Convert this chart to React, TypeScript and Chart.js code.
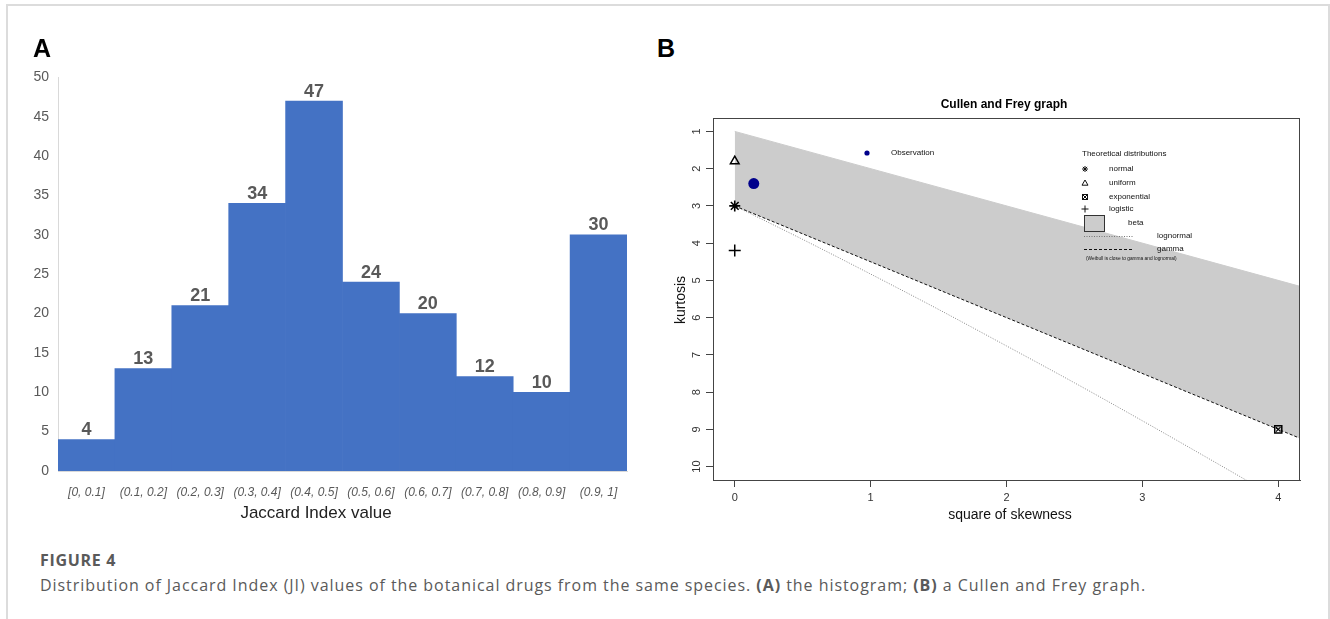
import React, { useEffect, useRef } from "react";
import { Chart, registerables } from "chart.js";

Chart.register(...registerables);

// ---------- Panel A data (histogram) ----------
const histCategories = [
  "[0, 0.1]",
  "(0.1, 0.2]",
  "(0.2, 0.3]",
  "(0.3, 0.4]",
  "(0.4, 0.5]",
  "(0.5, 0.6]",
  "(0.6, 0.7]",
  "(0.7, 0.8]",
  "(0.8, 0.9]",
  "(0.9, 1]",
];
const histCounts = [4, 13, 21, 34, 47, 24, 20, 12, 10, 30];
const histYMin = 0;
const histYMax = 50;
const histYStep = 5;

// ---------- Panel B data (Cullen and Frey graph) ----------
const cfXTicks = [0, 1, 2, 3, 4];
const cfYTicks = [1, 2, 3, 4, 5, 6, 7, 8, 9, 10];
const betaUpperSkew = [0, 4.3];
const betaUpperKurt = [1, 5.3];
const gammaSkew = [0, 4.3];
const gammaKurt = [3, 9.45];
const lognormalSkew = [0, 0.5, 1, 1.5, 2, 2.5, 3, 3.5, 3.8];
const lognormalKurt = [3, 3.9, 4.83, 5.78, 6.76, 7.75, 8.77, 9.81, 10.44];
const observationPoint = [0.14, 2.4];
const normalPoint = [0, 3];
const uniformPoint = [0, 1.8];
const logisticPoint = [0, 4.2];
const exponentialPoint = [4, 9];
const legendObservation = "Observation";
const legendTitle = "Theoretical distributions";
const legendNames = ["normal", "uniform", "exponential", "logistic", "beta", "lognormal", "gamma"];
const legendNote = "(Weibull is close to gamma and lognormal)";

const SANS = '"Liberation Sans", Arial, Helvetica, sans-serif';
const CAPTION_FONT = '"Open Sans", "Noto Sans", sans-serif';

const zip = (xs: number[], ys: number[]) => xs.map((x, i) => ({ x, y: ys[i] }));

function HistogramChart() {
  const ref = useRef<HTMLCanvasElement | null>(null);
  useEffect(() => {
    if (!ref.current) return;
    const labelPlugin = {
      id: "barLabels",
      afterDatasetsDraw(chart: any) {
        const ctx = chart.ctx;
        const meta = chart.getDatasetMeta(0);
        ctx.save();
        ctx.font = `bold 18px ${SANS}`;
        ctx.fillStyle = "#595959";
        ctx.textAlign = "center";
        ctx.textBaseline = "alphabetic";
        meta.data.forEach((bar: any, i: number) => {
          ctx.fillText(String(histCounts[i]), bar.x, bar.y - 4.5);
        });
        ctx.restore();
      },
    };
    const chart = new Chart(ref.current, {
      type: "bar",
      data: {
        labels: histCategories,
        datasets: [
          {
            data: histCounts,
            backgroundColor: "#4472C4",
            borderWidth: 0,
            categoryPercentage: 1,
            barPercentage: 1,
          },
        ],
      },
      options: {
        responsive: false,
        animation: false,
        events: [],
        layout: { padding: { top: 16, right: 23, left: 0, bottom: 0 } },
        plugins: { legend: { display: false }, tooltip: { enabled: false } },
        scales: {
          x: {
            grid: { display: false, drawTicks: false },
            border: { display: true, color: "#d9d9d9" },
            ticks: {
              font: { family: SANS, size: 12, style: "italic" },
              color: "#595959",
              padding: 14,
              maxRotation: 0,
              minRotation: 0,
              autoSkip: false,
            },
            afterFit: (s: any) => {
              s.height = 69;
            },
          },
          y: {
            min: histYMin,
            max: histYMax,
            grid: { display: false, drawTicks: false },
            border: { display: true, color: "#d9d9d9" },
            ticks: {
              stepSize: histYStep,
              font: { family: SANS, size: 14 },
              color: "#595959",
              padding: 9,
            },
            afterFit: (s: any) => {
              s.width = 58;
            },
          },
        },
      },
      plugins: [labelPlugin],
    } as any);
    return () => chart.destroy();
  }, []);
  return (
    <canvas
      ref={ref}
      width={650}
      height={480}
      style={{ position: "absolute", left: 0, top: 60, width: 650, height: 480 }}
    />
  );
}

function CullenFreyChart() {
  const ref = useRef<HTMLCanvasElement | null>(null);
  useEffect(() => {
    if (!ref.current) return;
    const OX = 660;
    const OY = 90;
    const framePlugin = {
      id: "cfFrame",
      afterDraw(chart: any) {
        const ctx = chart.ctx;
        const a = chart.chartArea;
        const ys = chart.scales.y;
        ctx.save();
        // box
        ctx.strokeStyle = "#444";
        ctx.lineWidth = 1;
        ctx.strokeRect(a.left + 0.5, a.top + 0.5, a.right - a.left - 1, a.bottom - a.top);
        // rotated y tick labels
        ctx.fillStyle = "#333";
        ctx.font = `11px ${SANS}`;
        ctx.textAlign = "center";
        ctx.textBaseline = "middle";
        cfYTicks.forEach((v) => {
          const y = ys.getPixelForValue(v);
          ctx.save();
          ctx.translate(697 - OX, y);
          ctx.rotate(-Math.PI / 2);
          ctx.fillText(String(v), 0, 0);
          ctx.restore();
        });
        // legends
        const P = (x: number, y: number) => [x - OX, y - OY];
        ctx.textAlign = "left";
        ctx.fillStyle = "#111";
        ctx.font = `8px ${SANS}`;
        // observation
        let [x, y] = P(867, 153);
        ctx.fillStyle = "#00008B";
        ctx.beginPath();
        ctx.arc(x, y, 2.6, 0, Math.PI * 2);
        ctx.fill();
        ctx.fillStyle = "#111";
        [x, y] = P(891, 153);
        ctx.fillText(legendObservation, x, y);
        // title
        [x, y] = P(1082, 154);
        ctx.fillText(legendTitle, x, y);
        const sx = 1085 - OX;
        const tx = 1109 - OX;
        ctx.strokeStyle = "#111";
        ctx.lineWidth = 1;
        // normal (star)
        y = 169 - OY;
        ctx.beginPath();
        for (let k = 0; k < 4; k++) {
          const ang = (k * Math.PI) / 4;
          ctx.moveTo(sx - 3 * Math.cos(ang), y - 3 * Math.sin(ang));
          ctx.lineTo(sx + 3 * Math.cos(ang), y + 3 * Math.sin(ang));
        }
        ctx.stroke();
        ctx.fillText(legendNames[0], tx, y);
        // uniform (triangle)
        y = 183 - OY;
        ctx.beginPath();
        ctx.moveTo(sx, y - 3);
        ctx.lineTo(sx + 3, y + 2.2);
        ctx.lineTo(sx - 3, y + 2.2);
        ctx.closePath();
        ctx.stroke();
        ctx.fillText(legendNames[1], tx, y);
        // exponential (square with x)
        y = 197 - OY;
        ctx.strokeRect(sx - 2.5, y - 2.5, 5, 5);
        ctx.beginPath();
        ctx.moveTo(sx - 2.5, y - 2.5);
        ctx.lineTo(sx + 2.5, y + 2.5);
        ctx.moveTo(sx + 2.5, y - 2.5);
        ctx.lineTo(sx - 2.5, y + 2.5);
        ctx.stroke();
        ctx.fillText(legendNames[2], tx, y);
        // logistic (plus)
        y = 209 - OY;
        ctx.beginPath();
        ctx.moveTo(sx - 3.5, y);
        ctx.lineTo(sx + 3.5, y);
        ctx.moveTo(sx, y - 3.5);
        ctx.lineTo(sx, y + 3.5);
        ctx.stroke();
        ctx.fillText(legendNames[3], tx, y);
        // beta box
        ctx.fillStyle = "#cccccc";
        ctx.fillRect(1084 - OX, 215 - OY, 20, 16);
        ctx.strokeStyle = "#333";
        ctx.strokeRect(1084.5 - OX, 215.5 - OY, 20, 16);
        ctx.fillStyle = "#111";
        ctx.fillText(legendNames[4], 1128 - OX, 223 - OY);
        // lognormal dotted
        y = 236.5 - OY;
        ctx.strokeStyle = "#777";
        ctx.setLineDash([1, 1.5]);
        ctx.beginPath();
        ctx.moveTo(1084 - OX, y);
        ctx.lineTo(1133 - OX, y);
        ctx.stroke();
        ctx.fillText(legendNames[5], 1157 - OX, 236 - OY);
        // gamma dashed
        y = 249.5 - OY;
        ctx.strokeStyle = "#111";
        ctx.setLineDash([3, 2]);
        ctx.beginPath();
        ctx.moveTo(1084 - OX, y);
        ctx.lineTo(1133 - OX, y);
        ctx.stroke();
        ctx.setLineDash([]);
        ctx.fillText(legendNames[6], 1157 - OX, 249 - OY);
        // note
        ctx.font = `4.8px ${SANS}`;
        ctx.fillText(legendNote, 1086 - OX, 259 - OY);
        ctx.restore();
      },
    };
    const axisCommon = {
      grid: {
        display: true,
        drawOnChartArea: false,
        drawTicks: true,
        tickLength: 7,
        color: "#444",
        lineWidth: 1,
      },
      border: { display: true, color: "#444" },
    };
    const chart = new Chart(ref.current, {
      type: "scatter",
      data: {
        datasets: [
          {
            type: "line",
            label: "beta",
            data: zip(betaUpperSkew, betaUpperKurt),
            borderColor: "#cccccc",
            backgroundColor: "#cccccc",
            borderWidth: 1,
            fill: "+1",
            pointRadius: 0,
            order: 10,
          },
          {
            type: "line",
            label: "gamma",
            data: zip(gammaSkew, gammaKurt),
            borderColor: "#111",
            borderWidth: 1,
            borderDash: [3, 2],
            fill: false,
            pointRadius: 0,
            order: 5,
          },
          {
            type: "line",
            label: "lognormal",
            data: zip(lognormalSkew, lognormalKurt),
            borderColor: "#888",
            borderWidth: 1,
            borderDash: [1, 1.5],
            fill: false,
            pointRadius: 0,
            cubicInterpolationMode: "monotone",
            order: 5,
          },
          {
            label: "Observation",
            data: [{ x: observationPoint[0], y: observationPoint[1] }],
            pointStyle: "circle",
            pointRadius: 5.5,
            backgroundColor: "#00008B",
            borderColor: "#00008B",
            borderWidth: 0,
            order: 1,
          },
          {
            label: "uniform",
            data: [{ x: uniformPoint[0], y: uniformPoint[1] }],
            pointStyle: "triangle",
            pointRadius: 5,
            backgroundColor: "rgba(0,0,0,0)",
            borderColor: "#000",
            borderWidth: 1.5,
            order: 1,
          },
          {
            label: "normal",
            data: [{ x: normalPoint[0], y: normalPoint[1] }],
            pointStyle: "star",
            pointRadius: 5.5,
            borderColor: "#000",
            borderWidth: 1.6,
            order: 1,
          },
          {
            label: "logistic",
            data: [{ x: logisticPoint[0], y: logisticPoint[1] }],
            pointStyle: "cross",
            pointRadius: 6,
            borderColor: "#000",
            borderWidth: 1.5,
            order: 1,
          },
          {
            label: "exponential",
            data: [{ x: exponentialPoint[0], y: exponentialPoint[1] }],
            pointStyle: "rect",
            pointRadius: 5,
            backgroundColor: "rgba(0,0,0,0)",
            borderColor: "#000",
            borderWidth: 1.5,
            order: 1,
          },
          {
            label: "exponential-x",
            data: [{ x: exponentialPoint[0], y: exponentialPoint[1] }],
            pointStyle: "crossRot",
            pointRadius: 3.2,
            borderColor: "#000",
            borderWidth: 1.2,
            order: 1,
          },
        ],
      },
      options: {
        responsive: false,
        animation: false,
        events: [],
        layout: { padding: { top: 28, right: 30, left: 0, bottom: 0 } },
        plugins: { legend: { display: false }, tooltip: { enabled: false } },
        scales: {
          x: {
            type: "linear",
            min: -0.16,
            max: 4.16,
            ...axisCommon,
            ticks: {
              font: { family: SANS, size: 11 },
              color: "#333",
              padding: 4,
              maxRotation: 0,
              autoSkip: false,
            },
            afterBuildTicks: (s: any) => {
              s.ticks = cfXTicks.map((v) => ({ value: v }));
            },
            afterFit: (s: any) => {
              s.height = 60;
            },
          },
          y: {
            type: "linear",
            reverse: true,
            min: 0.64,
            max: 10.36,
            ...axisCommon,
            ticks: { display: false },
            afterBuildTicks: (s: any) => {
              s.ticks = cfYTicks.map((v) => ({ value: v }));
            },
            afterFit: (s: any) => {
              s.width = 53;
            },
          },
        },
      },
      plugins: [framePlugin],
    } as any);
    return () => chart.destroy();
  }, []);
  return (
    <canvas
      ref={ref}
      width={670}
      height={450}
      style={{ position: "absolute", left: 660, top: 90, width: 670, height: 450 }}
    />
  );
}

const abs = (extra: React.CSSProperties): React.CSSProperties => ({
  position: "absolute",
  whiteSpace: "nowrap",
  ...extra,
});

export default function App() {
  return (
    <div
      style={{
        position: "absolute",
        left: 0,
        top: 0,
        width: 1330,
        height: 619,
        overflow: "hidden",
        background: "#fff",
        fontFamily: SANS,
      }}
    >
      <div
        style={abs({
          left: 6,
          top: 4,
          width: 1324,
          height: 700,
          boxSizing: "border-box",
          border: "2px solid #dcdcdc",
          borderBottom: "none",
        })}
      />
      <HistogramChart />
      <CullenFreyChart />
      <div style={abs({ left: 33, top: 36, fontSize: 25, lineHeight: "25px", fontWeight: 700, color: "#000" })}>A</div>
      <div style={abs({ left: 657, top: 36, fontSize: 25, lineHeight: "25px", fontWeight: 700, color: "#000" })}>B</div>
      <div
        style={abs({
          left: 166,
          width: 300,
          top: 504,
          textAlign: "center",
          fontSize: 17,
          lineHeight: "17px",
          color: "#222",
        })}
      >
        Jaccard Index value
      </div>
      <div
        style={abs({
          left: 904,
          width: 200,
          top: 98,
          textAlign: "center",
          fontSize: 12,
          lineHeight: "12px",
          fontWeight: 700,
          color: "#000",
        })}
      >
        Cullen and Frey graph
      </div>
      <div
        style={abs({
          left: 910,
          width: 200,
          top: 507,
          textAlign: "center",
          fontSize: 14,
          lineHeight: "14px",
          color: "#111",
        })}
      >
        square of skewness
      </div>
      <div
        style={abs({
          left: 630,
          width: 100,
          top: 293,
          textAlign: "center",
          fontSize: 14,
          lineHeight: "14px",
          color: "#111",
          transform: "rotate(-90deg)",
        })}
      >
        kurtosis
      </div>
      <div
        style={abs({
          left: 40,
          top: 551,
          fontFamily: CAPTION_FONT,
          fontSize: 16,
          lineHeight: "18px",
          fontWeight: 700,
          letterSpacing: 0.7,
          color: "#5a5a5a",
        })}
      >
        FIGURE 4
      </div>
      <div
        style={abs({
          left: 40,
          top: 575,
          fontFamily: CAPTION_FONT,
          fontSize: 16,
          lineHeight: "20px",
          letterSpacing: 0.95,
          color: "#5a5a5a",
        })}
      >
        Distribution of Jaccard Index (JI) values of the botanical drugs from the same species. <b>(A)</b> the
        histogram; <b>(B)</b> a Cullen and Frey graph.
      </div>
    </div>
  );
}
